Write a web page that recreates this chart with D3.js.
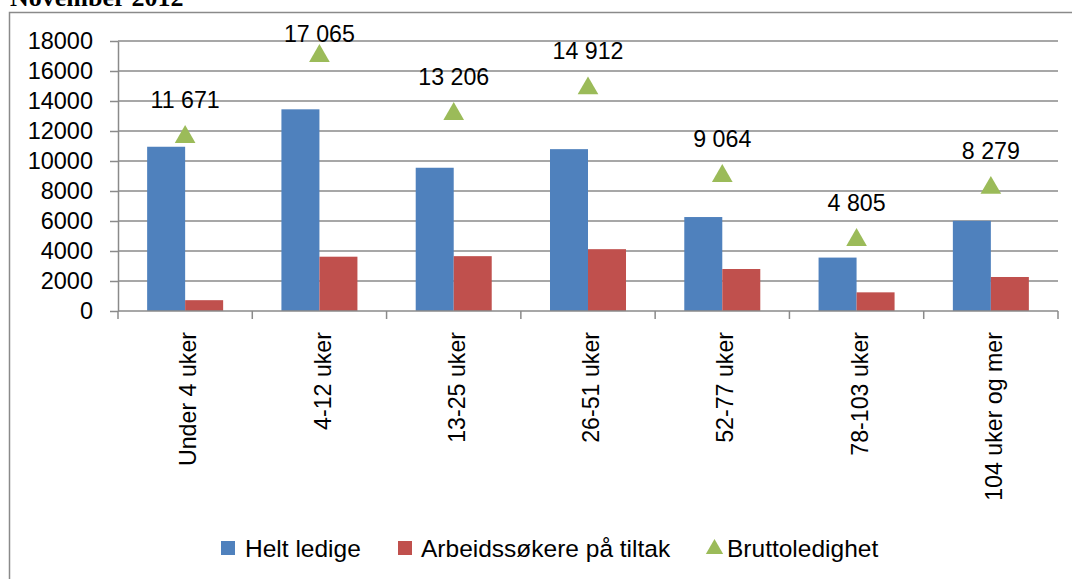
<!DOCTYPE html>
<html>
<head>
<meta charset="utf-8">
<script src="https://cdn.jsdelivr.net/npm/d3@7"></script>
<style>
  html, body { margin: 0; padding: 0; background: #fff; }
  svg { display: block; }
  text { font-family: "Liberation Sans", Arial, sans-serif; fill: #000; }
</style>
</head>
<body>
<svg id="chart" width="1072" height="579"></svg>
<script>
// ---- Data ----
const categories = ["Under 4 uker", "4-12 uker", "13-25 uker", "26-51 uker", "52-77 uker", "78-103 uker", "104 uker og mer"];
const heltLedige = [10950, 13445, 9550, 10790, 6264, 3561, 6012];
const tiltak = [721, 3620, 3656, 4122, 2800, 1244, 2267];
const brutto = [11671, 17065, 13206, 14912, 9064, 4805, 8279];
const yTicks = [0, 2000, 4000, 6000, 8000, 10000, 12000, 14000, 16000, 18000];
const seriesNames = ["Helt ledige", "Arbeidssøkere på tiltak", "Bruttoledighet"];
const colors = ["#4F81BD", "#C0504D", "#9BBB59"];

// ---- Layout ----
const svg = d3.select("#chart");
const plot = { left: 118, right: 1058, top: 41, bottom: 311 };
const grid = "#8a8a8a";

// Outer chart border (extends past the visible crop)
svg.append("rect")
  .attr("x", 9.5).attr("y", 12.5).attr("width", 1200).attr("height", 700)
  .attr("fill", "none").attr("stroke", grid).attr("stroke-width", 1.5);

// Title (partially cut off at top, as in the source)
svg.append("text")
  .attr("x", 10).attr("y", 6)
  .style("font-family", "'Liberation Serif', 'Times New Roman', serif")
  .style("font-weight", "bold").style("font-size", "26px")
  .text("November 2012");

const x0 = d3.scaleBand().domain(categories).range([plot.left, plot.right]).padding(0);
const bw = x0.bandwidth();
const x1 = d3.scaleBand().domain([0, 1]).range([bw * 0.217, bw * 0.783]).padding(0);
const y = d3.scaleLinear().domain([0, 18000]).range([plot.bottom, plot.top]);

// Gridlines + y ticks
const yAxis = d3.axisLeft(y).tickValues(yTicks).tickFormat(d3.format("d"))
  .tickSize(8).tickSizeOuter(0).tickPadding(17);
const gy = svg.append("g").attr("transform", `translate(${plot.left},0)`).call(yAxis);
gy.select(".domain").attr("stroke", grid).attr("stroke-width", 1.5);
gy.selectAll(".tick line").attr("stroke", grid).attr("stroke-width", 1.5);
gy.selectAll(".tick text").style("font-size", "23.5px").attr("fill", "#000")
  .style("font-family", "'Liberation Sans', Arial, sans-serif");

svg.append("g").selectAll("line").data(yTicks.filter(d => d > 0)).join("line")
  .attr("x1", plot.left).attr("x2", plot.right)
  .attr("y1", d => y(d)).attr("y2", d => y(d))
  .attr("stroke", grid).attr("stroke-width", 1.5);

// Bars
const gBars = svg.append("g");
[heltLedige, tiltak].forEach((vals, si) => {
  gBars.selectAll(null).data(vals).join("rect")
    .attr("x", (d, i) => x0(categories[i]) + x1(si))
    .attr("width", x1.bandwidth())
    .attr("y", d => y(d))
    .attr("height", d => y(0) - y(d))
    .attr("fill", colors[si]);
});

// X axis (baseline with boundary ticks)
svg.append("line")
  .attr("x1", plot.left).attr("x2", plot.right)
  .attr("y1", y(0)).attr("y2", y(0))
  .attr("stroke", grid).attr("stroke-width", 1.5);
const boundaries = categories.map(c => x0(c)).concat([plot.right]);
svg.append("g").selectAll("line").data(boundaries).join("line")
  .attr("x1", d => d).attr("x2", d => d)
  .attr("y1", y(0)).attr("y2", y(0) + 8)
  .attr("stroke", grid).attr("stroke-width", 1.5);

// Category labels, rotated
svg.append("g").selectAll("text").data(categories).join("text")
  .attr("transform", d => `translate(${x0(d) + bw / 2 + 3},${y(0) + 21}) rotate(-90)`)
  .attr("text-anchor", "end").attr("dy", "0.35em")
  .style("font-size", "23.2px")
  .text(d => d);

// Triangles (Bruttoledighet)
const tri = d3.symbol().type(d3.symbolTriangle).size(185);
svg.append("g").selectAll("path").data(brutto).join("path")
  .attr("d", tri)
  .attr("transform", (d, i) => `translate(${x0(categories[i]) + bw / 2},${y(d) + 1})`)
  .attr("fill", colors[2]);

// Data labels
const nb = d3.formatLocale({ decimal: ",", thousands: "\u00a0", grouping: [3], currency: ["", " kr"] });
const fmt = nb.format(",d");
svg.append("g").selectAll("text").data(brutto).join("text")
  .attr("x", (d, i) => x0(categories[i]) + bw / 2)
  .attr("y", d => Math.max(y(d) - 28, 42))
  .attr("text-anchor", "middle")
  .style("font-size", "23.2px")
  .text(d => fmt(d));

// Legend
const legend = svg.append("g");
const legendItems = [
  { x: 221, textX: 245, type: "rect", ci: 0 },
  { x: 398, textX: 421, type: "rect", ci: 1 },
  { x: 706, textX: 727, type: "tri", ci: 2 }
];
const ly = 548;
legendItems.forEach((it, i) => {
  if (it.type === "rect") {
    legend.append("rect").attr("x", it.x).attr("y", ly - 7).attr("width", 14).attr("height", 14)
      .attr("fill", colors[it.ci]);
  } else {
    legend.append("path").attr("d", d3.symbol().type(d3.symbolTriangle).size(130))
      .attr("transform", `translate(${it.x + 8.5},${ly + 1})`).attr("fill", colors[it.ci]);
  }
  legend.append("text").attr("x", it.textX).attr("y", ly).attr("dy", "0.35em")
    .style("font-size", "24.5px").text(seriesNames[i]);
});
</script>
</body>
</html>
